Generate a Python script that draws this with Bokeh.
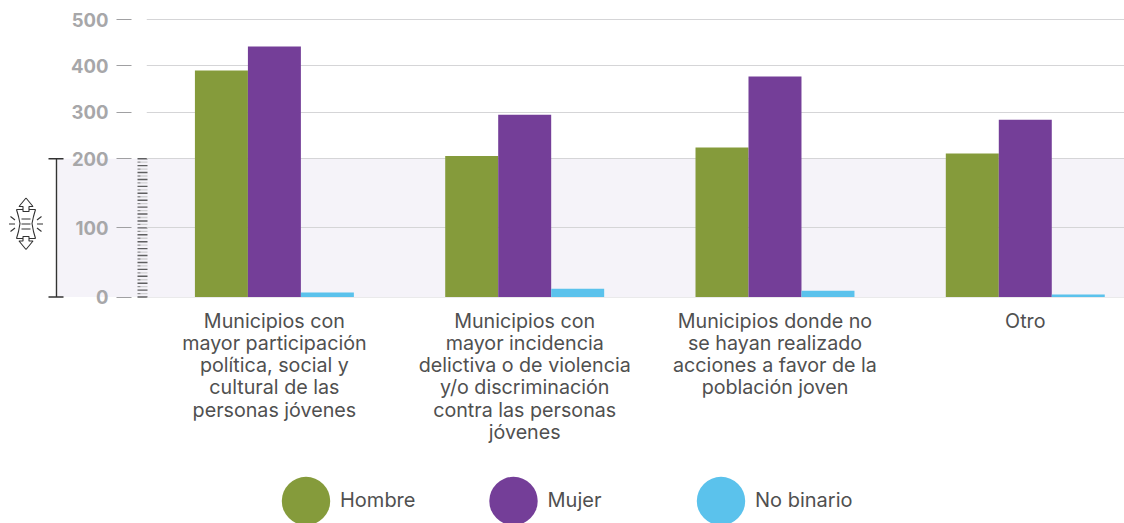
from bokeh.plotting import figure
from bokeh.embed import file_html
from bokeh.resources import INLINE
from bokeh.core.properties import value
from bokeh.models import Range1d, FixedTicker

categories = [
    "Municipios con\nmayor participación\npolítica, social y\ncultural de las\npersonas jóvenes",
    "Municipios con\nmayor incidencia\ndelictiva o de violencia\ny/o discriminación\ncontra las personas\njóvenes",
    "Municipios donde no\nse hayan realizado\nacciones a favor de la\npoblación joven",
    "Otro",
]
series_names = ["Hombre", "Mujer", "No binario"]
hombre = [390, 206, 224, 211]
mujer = [442, 295, 377, 284]
no_binario = [6.5, 12, 9, 3.5]
series_colors = ["#859B3B", "#743E98", "#5BC2EC"]
y_tick_values = [0, 100, 200, 300, 400, 500]

FONT = "Inter"
BREAK = 200
UPPER = 0.671


def scale(v):
    return v if v <= BREAK else BREAK + (v - BREAK) * UPPER


Y_MIN = -0.7
UNITS_PER_PX = (scale(500) - Y_MIN) / 278


def vpx(v):
    """pixel row of a stretched-scale value, for the backdrop figure"""
    return 297 - (scale(v) - Y_MIN) / UNITS_PER_PX


# ---------- backdrop figure: band, ruler, bracket, icon, legend ----------
bg = figure(
    width=1124, height=523, output_backend="svg", toolbar_location=None,
    x_range=Range1d(0, 1124), y_range=Range1d(523, 0),
    x_axis_type=None, y_axis_type=None,
    min_border_left=0, min_border_right=0, min_border_top=0, min_border_bottom=0,
    outline_line_color=None, background_fill_color="white", border_fill_color="white",
)
bg.grid.visible = False

bg.quad(left=[57], right=[1124], top=[vpx(200)], bottom=[vpx(0)],
        fill_color="#F5F3F9", line_color=None)

comb_v = list(range(0, 205, 5))
dark_v = [v for v in comb_v if v % 10 == 0]
light_v = [v for v in comb_v if v % 10 != 0]
bg.segment(x0=[140] * len(light_v), x1=[147] * len(light_v),
           y0=[vpx(v) for v in light_v], y1=[vpx(v) for v in light_v],
           line_color="#CFCFD1", line_width=1.3)
bg.segment(x0=[137] * len(light_v), x1=[140] * len(light_v),
           y0=[vpx(v) for v in light_v], y1=[vpx(v) for v in light_v],
           line_color="#8E8E90", line_width=1.3)
bg.segment(x0=[137] * len(dark_v), x1=[147] * len(dark_v),
           y0=[vpx(v) for v in dark_v], y1=[vpx(v) for v in dark_v],
           line_color="#5F5F61", line_width=1.4)

bg.multi_line(
    xs=[[56, 56], [48, 63], [48, 63]],
    ys=[[vpx(0), vpx(200)], [vpx(0), vpx(0)], [vpx(200), vpx(200)]],
    line_color="#333333", line_width=1.4,
)

icon_xs = [
    [25.5, 18.5, 22.5, 22.5, 28.5, 28.5, 32.5, 25.5],
    [25.5, 18.5, 22.5, 22.5, 28.5, 28.5, 32.5, 25.5],
    [16, 22.5], [28.5, 35], [16, 22.5], [28.5, 35],
    [16, 18, 19.5, 18, 16], [35, 33, 31.5, 33, 35],
    [21, 30], [21, 30], [21, 30],
    [8.5, 14.5], [10, 14.5], [10, 14.5],
    [36.5, 42.5], [41, 36.5], [41, 36.5],
]
icon_ys = [
    [197.5, 206, 206, 211, 211, 206, 206, 197.5],
    [249, 240.5, 240.5, 236, 236, 240.5, 240.5, 249],
    [209, 209], [209, 209], [238, 238], [238, 238],
    [209, 216, 223, 231, 238], [209, 216, 223, 231, 238],
    [218.5, 218.5], [223.5, 223.5], [228.5, 228.5],
    [223.5, 223.5], [216, 219.5], [231, 227.5],
    [223.5, 223.5], [216, 219.5], [231, 227.5],
]
bg.multi_line(xs=icon_xs, ys=icon_ys, line_color="#333333", line_width=1.1)

legend_x = [305.5, 513, 720.5]
bg.scatter(x=legend_x, y=[500.5] * 3, size=48.4, marker="circle",
           fill_color=series_colors, line_color=None)
bg.text(x=[c + 34 for c in legend_x], y=[499.5] * 3, text=series_names,
        text_font=value(FONT), text_font_size="20px", text_color="#505050",
        text_baseline="middle", text_align="left")

# ---------- chart figure, transparent, on top ----------
p = figure(
    width=1124, height=523, output_backend="svg", toolbar_location=None,
    x_range=Range1d(-0.0110, 3.8964),
    y_range=Range1d(Y_MIN, scale(500) + UNITS_PER_PX),
    min_border_left=146, min_border_right=0, min_border_top=18, min_border_bottom=226,
    outline_line_color=None, background_fill_color=None, border_fill_color=None,
)
p.margin = (-523, 0, 0, 0)

centres = [i + 0.5 for i in range(len(categories))]
bw = 0.2117
for k, (vals, col) in enumerate(zip([hombre, mujer, no_binario], series_colors)):
    p.vbar(x=[c + (k - 1) * bw for c in centres], top=[scale(v) for v in vals], bottom=0,
           width=bw, fill_color=col, line_color=None, level="glyph")

ya = p.yaxis[0]
ya.ticker = FixedTicker(ticks=[scale(v) for v in y_tick_values], minor_ticks=[])
ya.major_label_overrides = {scale(v): str(v) for v in y_tick_values}
ya.axis_line_color = None
ya.major_tick_in = -15
ya.major_tick_out = 30
ya.major_tick_line_color = "#A0A0A2"
ya.major_tick_line_width = 1.2
ya.minor_tick_line_color = None
ya.major_label_standoff = 8
ya.major_label_text_font = FONT
ya.major_label_text_font_style = "bold"
ya.major_label_text_font_size = "18.5px"
ya.major_label_text_color = "#A7A7A9"

xa = p.xaxis[0]
xa.ticker = FixedTicker(ticks=centres, minor_ticks=[])
xa.major_label_overrides = {c: t for c, t in zip(centres, categories)}
xa.axis_line_color = None
xa.major_tick_line_color = None
xa.minor_tick_line_color = None
xa.major_label_standoff = 5
xa.major_label_text_font = FONT
xa.major_label_text_font_size = "19.7px"
xa.major_label_text_color = "#505050"
xa.major_label_text_line_height = 0.93
xa.major_label_orientation = "horizontal"

p.xgrid.visible = False
p.ygrid[0].ticker = FixedTicker(ticks=[scale(v) for v in y_tick_values], minor_ticks=[])
p.ygrid[0].grid_line_color = "#D5D5D7"
p.ygrid[0].grid_line_width = 1.2

open("out.html", "w").write(file_html((bg, p), INLINE))
